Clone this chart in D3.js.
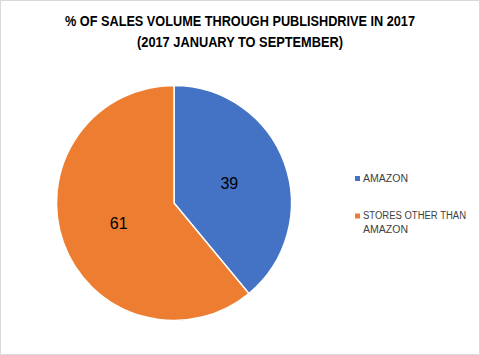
<!DOCTYPE html>
<html>
<head>
<meta charset="utf-8">
<script src="https://cdn.jsdelivr.net/npm/d3@7"></script>
<style>
  body { margin: 0; background: #fff; }
  svg { display: block; }
</style>
</head>
<body>
<script>
// Datos de la torta
const categories = ['AMAZON', 'STORES OTHER THAN AMAZON'];
const values = [39, 61];
const colors = ['#4472C4', '#ED7D31'];
const titleLines = ['% OF SALES VOLUME THROUGH PUBLISHDRIVE IN 2017', '(2017 JANUARY TO SEPTEMBER)'];
const legendLines = [['AMAZON'], ['STORES OTHER THAN', 'AMAZON']];

const WIDTH = 480, HEIGHT = 355;
const cx = 174, cy = 203, radius = 117.5;

const svg = d3.select('body')
  .append('svg')
    .attr('width', WIDTH)
    .attr('height', HEIGHT);

// borde del área del gráfico
svg.append('rect')
  .attr('x', 0.5).attr('y', 0.5)
  .attr('width', WIDTH - 1).attr('height', HEIGHT - 1)
  .attr('fill', '#fff')
  .attr('stroke', '#d9d9d9');

// Título
svg.selectAll('.title')
  .data(titleLines)
  .enter().append('text')
    .attr('class', 'title')
    .attr('x', 240)
    .attr('y', (d, i) => 26 + i * 20.5)
    .attr('text-anchor', 'middle')
    .attr('textLength', (d, i) => i === 0 ? 350 : 206)
    .attr('lengthAdjust', 'spacingAndGlyphs')
    .style('font', 'bold 14px "Liberation Sans", Arial, sans-serif')
    .attr('fill', '#000')
    .text(d => d);

const data = categories.map((c, i) => ({ name: c, value: values[i] }));

const pie = d3.pie()
  .value(d => d.value)
  .sort(null);

const arc = d3.arc()
  .innerRadius(0)
  .outerRadius(radius);

const colorScale = d3.scaleOrdinal()
  .domain(categories)
  .range(colors);

const g = svg.append('g')
  .attr('transform', `translate(${cx},${cy})`);

const arcs = pie(data);

g.selectAll('path')
  .data(arcs)
  .enter().append('path')
    .attr('d', arc)
    .attr('fill', d => colorScale(d.data.name))
    .attr('stroke', '#fff')
    .attr('stroke-width', 1.5);

// etiquetas de valores
const labelArc = d3.arc()
  .innerRadius(radius * 0.5)
  .outerRadius(radius * 0.5);

g.selectAll('.label')
  .data(arcs)
  .enter().append('text')
    .attr('class', 'label')
    .attr('transform', d => `translate(${labelArc.centroid(d)})`)
    .attr('text-anchor', 'middle')
    .attr('dy', '0.35em')
    .style('font', '16px "Liberation Sans", Arial, sans-serif')
    .attr('fill', '#000')
    .text(d => d.data.value);

// Leyenda
const legend = svg.selectAll('.legend')
  .data(categories)
  .enter().append('g')
    .attr('class', 'legend')
    .attr('transform', (d, i) => `translate(355,${176 + i * 37.5})`);

legend.append('rect')
  .attr('width', 5)
  .attr('height', 5)
  .attr('fill', colorScale);

legend.selectAll('text')
  .data((d, i) => legendLines[i])
  .enter().append('text')
    .attr('x', 8)
    .attr('y', (d, i) => 5.5 + i * 14)
    .attr('textLength', d => d === 'AMAZON' ? 45 : 103)
    .attr('lengthAdjust', 'spacingAndGlyphs')
    .style('font', '10px "Liberation Sans", Arial, sans-serif')
    .attr('fill', '#404040')
    .text(d => d);
</script>
</body>
</html>
